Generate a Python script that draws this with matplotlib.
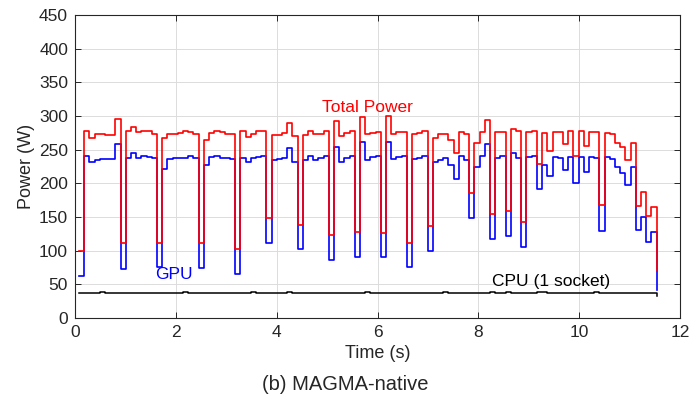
import numpy as np
import matplotlib
matplotlib.use("Agg")
import matplotlib.pyplot as plt

plt.rcParams['font.family'] = ['Liberation Sans', 'DejaVu Sans']

# sampling grid of the power meter (start time, sample period, seconds)
t_start = 0.08
t_step = 0.1032

gpu = [62, 240, 231, 235, 236, 236, 236, 259, 73, 237,
       245, 238, 240, 239, 237, 76, 221, 236, 237, 237,
       238, 240, 237, 75, 227, 239, 240, 238, 237, 236,
       66, 238, 232, 237, 239, 240, 112, 235, 236, 237,
       253, 232, 102, 234, 241, 235, 237, 240, 86, 254,
       232, 237, 240, 91, 261, 235, 239, 240, 90, 262,
       236, 239, 240, 76, 236, 237, 240, 100, 231, 235,
       237, 227, 207, 240, 235, 149, 224, 240, 258, 118,
       238, 240, 122, 245, 238, 106, 239, 241, 192, 227,
       211, 239, 237, 220, 239, 201, 239, 217, 239, 237,
       129, 239, 236, 224, 216, 197, 224, 131, 150, 113, 128,
       42]

total = [99, 277, 267, 273, 273, 272, 272, 295, 112, 278,
         283, 276, 277, 277, 274, 112, 267, 273, 274, 275,
         277, 276, 274, 111, 265, 275, 277, 276, 273, 274,
         103, 277, 269, 274, 278, 277, 149, 272, 272, 275,
         290, 270, 138, 272, 278, 273, 274, 277, 123, 292,
         270, 275, 278, 128, 299, 273, 275, 276, 126, 300,
         273, 276, 276, 112, 273, 275, 277, 137, 267, 273,
         274, 264, 245, 276, 273, 186, 260, 276, 294, 155,
         276, 276, 159, 280, 278, 142, 276, 277, 229, 275,
         248, 276, 276, 258, 277, 240, 277, 255, 276, 276,
         168, 275, 273, 260, 254, 235, 260, 167, 187, 151, 165,
         71]

cpu = [37, 37, 37, 37.5, 38, 37.5, 37, 37, 37, 37,
       37, 37, 37.5, 37, 37, 37, 37, 37, 37, 37,
       38, 37, 37, 37, 37, 37, 37, 37, 37.5, 37,
       37, 37, 37, 38, 37, 37, 37, 37, 37, 37,
       38, 37, 37, 37, 37, 37, 37, 37.5, 37, 37,
       37, 37, 37, 37, 37, 38, 37, 37, 37, 37,
       37, 37.5, 37, 37, 37, 37, 37, 37, 37, 37,
       38, 37, 37, 37, 37, 37, 37, 37, 37, 38,
       37, 37, 38, 37, 37, 37, 37, 37, 38.5, 38,
       37, 37, 37, 37.5, 37, 37, 37, 37, 37, 38,
       37, 37, 37, 37, 37, 37, 37.5, 37, 37, 37, 37,
       32]

x_ticks = [0, 2, 4, 6, 8, 10, 12]
y_ticks = [0, 50, 100, 150, 200, 250, 300, 350, 400, 450]

n = len(gpu)
t = t_start + t_step * np.arange(n)

fig = plt.figure(figsize=(6.9, 4.05), dpi=100)
ax = fig.add_axes([75/690, 1 - 318/405, 605/690, 303/405])

ax.step(t, cpu, where='post', color='black', lw=1.1)
ax.step(t, gpu, where='post', color='#0000ff', lw=1.2)
ax.step(t, total, where='post', color='#ff0000', lw=1.2)

ax.set_xlim(0, 12)
ax.set_ylim(0, 450)
ax.set_xticks(x_ticks)
ax.set_yticks(y_ticks)
ax.grid(True, color='#dcdcdc', lw=0.7)
ax.set_axisbelow(True)
ax.tick_params(direction='in', top=True, right=True, labelsize=12.5,
               colors='#262626', length=4, width=0.7, pad=5)
for s in ax.spines.values():
    s.set_color('#262626')
    s.set_linewidth(0.8)

ax.set_xlabel('Time (s)', fontsize=13, color='#262626', labelpad=4)
ax.set_ylabel('Power (W)', fontsize=13, color='#262626', labelpad=3)

ax.text(5.8, 313, 'Total Power', color='#ff0000', fontsize=12.5,
        ha='center', va='center')
ax.text(1.97, 65, 'GPU', color='#0000ff', fontsize=12.5,
        ha='center', va='center')
ax.text(9.45, 54, 'CPU (1 socket)', color='black', fontsize=12.5,
        ha='center', va='center')

fig.text(0.5, 1 - 385/405, '(b) MAGMA-native', fontsize=14.5,
         color='#262626', ha='center', va='center')

fig.savefig('out.png', dpi=100)
